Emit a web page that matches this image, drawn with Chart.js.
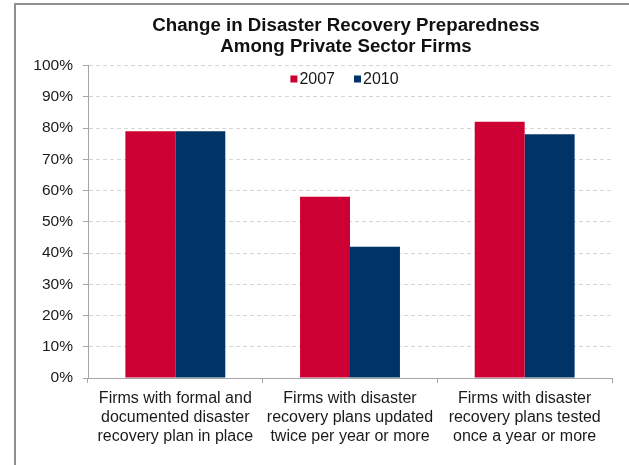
<!DOCTYPE html>
<html>
<head>
<meta charset="utf-8">
<script src="https://cdn.jsdelivr.net/npm/chart.js@4/dist/chart.umd.min.js"></script>
<style>
html,body{margin:0;padding:0;background:#fff;overflow:hidden;}
#wrap{position:relative;width:629px;height:465px;overflow:hidden;}
#c{position:absolute;left:0;top:0;}
</style>
</head>
<body>
<div id="wrap"><canvas id="c" width="692" height="465"></canvas></div>
<script>
const categories = [
  ["Firms with formal and", "documented disaster", "recovery plan in place"],
  ["Firms with disaster", "recovery plans updated", "twice per year or more"],
  ["Firms with disaster", "recovery plans tested", "once a year or more"]
];
const seriesNames = ["2007", "2010"];
const values2007 = [79, 58, 82];
const values2010 = [79, 42, 78];
const titleLines = ["Change in Disaster Recovery Preparedness", "Among Private Sector Firms"];
const seriesColors = ["#cc0033", "#003366"];

const frame = {
  id: 'frame',
  beforeDraw(chart) {
    const ctx = chart.ctx;
    ctx.save();
    ctx.fillStyle = '#fff';
    ctx.fillRect(0, 0, chart.width, chart.height);
    ctx.strokeStyle = '#8f8f8f';
    ctx.lineWidth = 2;
    ctx.beginPath();
    ctx.moveTo(15, chart.height);
    ctx.lineTo(15, 4);
    ctx.lineTo(chart.width, 4);
    ctx.stroke();
    ctx.restore();
  }
};

// legend drawn inside the plot area, centred, like the reference
const innerLegend = {
  id: 'innerLegend',
  afterDatasetsDraw(chart) {
    const ctx = chart.ctx;
    const ds = chart.data.datasets;
    ctx.save();
    ctx.font = '16px "Liberation Sans", Arial, sans-serif';
    ctx.textBaseline = 'middle';
    ctx.textAlign = 'left';
    const box = 7, gapBoxText = 2, gapItems = 19;
    const widths = ds.map(d => box + gapBoxText + ctx.measureText(d.label).width);
    const total = widths.reduce((a, b) => a + b, 0) + gapItems * (ds.length - 1);
    let x = 344.5 - total / 2;
    const y = 79;
    ds.forEach((d, i) => {
      ctx.fillStyle = d.backgroundColor;
      ctx.fillRect(x, y - box / 2, box, box);
      ctx.fillStyle = '#1a1a1a';
      ctx.fillText(d.label, x + box + gapBoxText, y + 0.5);
      x += widths[i] + gapItems;
    });
    ctx.restore();
  }
};

Chart.defaults.font.family = '"Liberation Sans", Arial, sans-serif';
Chart.defaults.color = '#1a1a1a';

new Chart(document.getElementById('c'), {
  type: 'bar',
  data: {
    labels: categories,
    datasets: [
      { label: seriesNames[0], data: values2007, backgroundColor: seriesColors[0], categoryPercentage: 0.572, barPercentage: 1.0 },
      { label: seriesNames[1], data: values2010, backgroundColor: seriesColors[1], categoryPercentage: 0.572, barPercentage: 1.0 }
    ]
  },
  plugins: [frame, innerLegend],
  options: {
    responsive: false,
    animation: false,
    layout: { padding: 0 },
    plugins: {
      title: {
        display: true,
        text: titleLines,
        color: '#111',
        font: { size: 18.7, weight: 'bold', lineHeight: 1.15 },
        padding: { top: 15, bottom: 7.5 }
      },
      legend: { display: false },
      tooltip: { enabled: false }
    },
    scales: {
      x: {
        afterFit(s) { s.height = 87; },
        grid: { offset: true, drawOnChartArea: false, drawTicks: true, tickLength: 5, tickColor: '#a6a6a6', color: '#a6a6a6' },
        border: { display: true, color: '#a6a6a6', width: 1 },
        ticks: { padding: 6, maxRotation: 0, autoSkip: false, color: '#1a1a1a', font: { size: 16, lineHeight: 1.2 } }
      },
      y: {
        min: 0,
        max: 100,
        afterFit(s) { s.width = 88; },
        grid: { color: '#d6d6d6', tickColor: '#a6a6a6', tickLength: 5, drawTicks: true },
        border: { display: true, color: '#a6a6a6', width: 1, dash: [4, 3] },
        ticks: { stepSize: 10, padding: 10, color: '#1a1a1a', font: { size: 15.5 }, callback: v => v + '%' }
      },
      spacer: {
        type: 'linear',
        position: 'right',
        display: true,
        afterFit(s) { s.width = 80; },
        grid: { display: false, drawTicks: false },
        border: { display: false },
        ticks: { display: false }
      }
    }
  }
});
</script>
</body>
</html>
